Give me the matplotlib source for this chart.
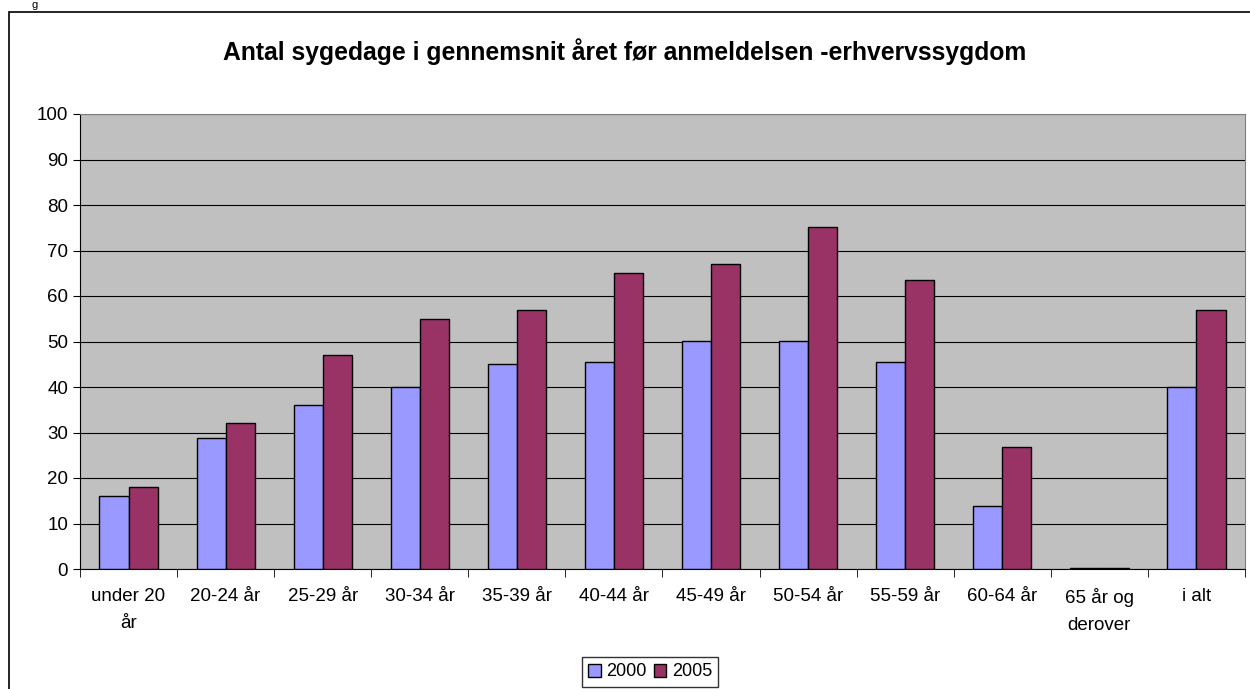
import numpy as np
import matplotlib.pyplot as plt
from matplotlib.patches import Rectangle

plt.rcParams['font.family'] = ['Liberation Sans', 'DejaVu Sans']

categories = ['under 20\når', '20-24 år', '25-29 år', '30-34 år', '35-39 år',
              '40-44 år', '45-49 år', '50-54 år', '55-59 år', '60-64 år',
              '65 år og\nderover', 'i alt']
v2000 = [16, 28.7, 36, 40, 45, 45.5, 50.2, 50.2, 45.6, 13.8, 0.3, 40]
v2005 = [18, 32, 47, 55, 57, 65, 67, 75.2, 63.5, 26.8, 0.3, 57]

fig = plt.figure(figsize=(12.5, 6.89), dpi=100)
fig.patch.set_facecolor('white')

# outer chart frame (runs off right/bottom edge)
fig.patches.append(Rectangle((9 / 1250, -0.1), 1.2, 1 - 12 / 689 + 0.1,
                             transform=fig.transFigure, fill=False,
                             edgecolor='black', linewidth=1.2))
fig.text(32 / 1250, 1.0, 'g', fontsize=8, va='top', ha='left')

ax = fig.add_axes([80 / 1250, 1 - 569 / 689, 1165 / 1250, 455 / 689])
ax.set_facecolor('#c0c0c0')

x = np.arange(len(categories))
w = 0.3
ax.bar(x - w / 2, v2000, w, color='#9999ff', edgecolor='black', linewidth=1, label='2000', zorder=3)
ax.bar(x + w / 2, v2005, w, color='#993366', edgecolor='black', linewidth=1, label='2005', zorder=3)

ax.set_ylim(0, 100)
ax.set_xlim(-0.5, len(categories) - 0.5)
ax.set_yticks(range(0, 101, 10))
ax.yaxis.grid(True, color='black', linewidth=0.8)
ax.set_axisbelow(True)
ax.tick_params(axis='y', labelsize=13.5, length=5, color='black')

ax.set_xticks(x)
ax.set_xticklabels(categories, fontsize=13.5, linespacing=1.75)
ax.tick_params(axis='x', length=0, pad=14)
ax.set_xticks(np.arange(-0.5, len(categories)), minor=True)
ax.tick_params(axis='x', which='minor', length=6, color='black')

for s in ['top', 'right']:
    ax.spines[s].set_color('#808080')
ax.spines['left'].set_color('black')
ax.spines['bottom'].set_color('black')

fig.text(0.4995, 1 - 52 / 689, 'Antal sygedage i gennemsnit året før anmeldelsen -erhvervssygdom',
         ha='center', va='center', fontsize=17.8, fontweight='bold')

fig.legend(loc='center', bbox_to_anchor=(650 / 1250, 1 - 672 / 689), ncol=2,
           fontsize=13, frameon=True, fancybox=False, edgecolor='black',
           handlelength=0.7, handleheight=0.7, handletextpad=0.3, columnspacing=0.4,
           borderpad=0.35)

fig.savefig('out.png', dpi=100)
